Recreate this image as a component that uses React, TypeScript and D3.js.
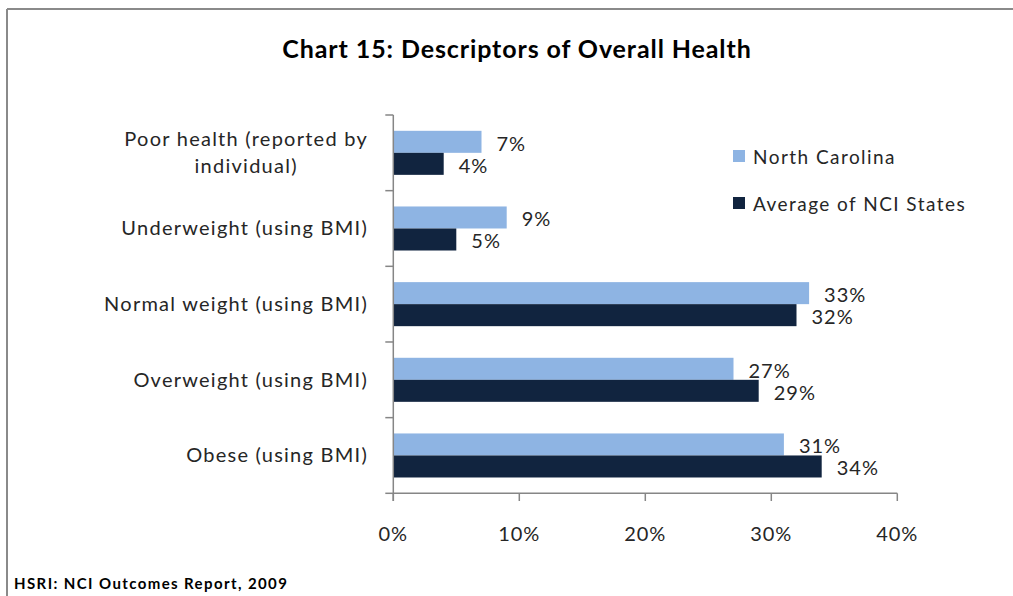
import React, { useEffect, useRef } from "react";
import * as d3 from "d3";

const categories = [
  "Poor health (reported by\nindividual)",
  "Underweight (using BMI)",
  "Normal weight (using BMI)",
  "Overweight (using BMI)",
  "Obese (using BMI)",
];
const seriesNames = ["North Carolina", "Average of NCI States"];
const northCarolina = [7, 9, 33, 27, 31];
const averageNCI = [4, 5, 32, 29, 34];
const xTicks = [0, 10, 20, 30, 40];
const title = "Chart 15: Descriptors of Overall Health";
const footer = "HSRI: NCI Outcomes Report, 2009";

const W = 1013;
const H = 596;
const FONT = "Lato, 'Open Sans', sans-serif";
const colors = ["#8EB4E3", "#11243F"];

export default function App() {
  const ref = useRef<SVGSVGElement>(null);

  useEffect(() => {
    const svg = d3.select(ref.current);
    svg.selectAll("*").remove();

    // frame
    svg.append("rect").attr("width", W).attr("height", H).attr("fill", "#fff");
    svg.append("line").attr("x1", 7).attr("x2", W).attr("y1", 9).attr("y2", 9)
      .attr("stroke", "#8a8a8a").attr("stroke-width", 2);
    svg.append("line").attr("x1", 7).attr("x2", 7).attr("y1", 9).attr("y2", H)
      .attr("stroke", "#8a8a8a").attr("stroke-width", 2);

    // title
    svg.append("text").attr("x", 517).attr("y", 48)
      .attr("text-anchor", "middle").attr("dominant-baseline", "central")
      .attr("font-family", FONT).attr("font-weight", "bold").attr("font-size", 25)
      .attr("letter-spacing", 0.9)
      .attr("fill", "#000").text(title);

    const x = d3.scaleLinear().domain([0, 40]).range([393.3, 897.3]);
    const yBand = d3.scaleBand<string>().domain(categories).range([115, 493.3]);
    const yGroup = d3.scaleBand<string>().domain(categories).range([115, 493.3])
      .paddingInner(0.418).paddingOuter(0.209);
    const ySeries = d3.scaleBand<string>().domain(seriesNames).range([0, yGroup.bandwidth()]);

    const rows = categories.map((c, i) => ({ c, vals: [northCarolina[i], averageNCI[i]] }));

    // bars
    rows.forEach((r) => {
      r.vals.forEach((v, si) => {
        const y0 = (yGroup(r.c) as number) + (ySeries(seriesNames[si]) as number);
        svg.append("rect")
          .attr("x", x(0)).attr("y", y0)
          .attr("width", x(v) - x(0)).attr("height", ySeries.bandwidth())
          .attr("fill", colors[si]);
        svg.append("text")
          .attr("x", x(v) + 15).attr("y", y0 + ySeries.bandwidth() / 2 + 1)
          .attr("dominant-baseline", "central")
          .attr("font-family", FONT).attr("font-size", 20).attr("letter-spacing", 1)
          .attr("fill", "#262626")
          .text(`${v}%`);
      });
    });

    const axisColor = "#868686";
    // y axis line
    svg.append("line").attr("x1", x(0)).attr("x2", x(0)).attr("y1", 115).attr("y2", 501)
      .attr("stroke", axisColor).attr("stroke-width", 1.5);
    // category ticks
    const boundaries = [115, ...categories.map((c) => (yBand(c) as number) + yBand.bandwidth())];
    boundaries.forEach((b) => {
      svg.append("line").attr("x1", x(0) - 8).attr("x2", x(0)).attr("y1", b).attr("y2", b)
        .attr("stroke", axisColor).attr("stroke-width", 1.5);
    });
    // x axis line
    svg.append("line").attr("x1", x(0)).attr("x2", x(40)).attr("y1", 493.3).attr("y2", 493.3)
      .attr("stroke", axisColor).attr("stroke-width", 1.5);
    xTicks.forEach((t) => {
      svg.append("line").attr("x1", x(t)).attr("x2", x(t)).attr("y1", 493.3).attr("y2", 501)
        .attr("stroke", axisColor).attr("stroke-width", 1.5);
      svg.append("text").attr("x", x(t)).attr("y", 533)
        .attr("text-anchor", "middle").attr("dominant-baseline", "central")
        .attr("font-family", FONT).attr("font-size", 20).attr("letter-spacing", 1)
        .attr("fill", "#262626")
        .text(`${t}%`);
    });

    // category labels
    categories.forEach((c) => {
      const lines = c.split("\n");
      const cy = (yBand(c) as number) + yBand.bandwidth() / 2;
      const g = svg.append("g");
      const lh = 27;
      const texts = lines.map((ln, li) =>
        g.append("text")
          .attr("y", cy - 1 + (li - (lines.length - 1) / 2) * lh)
          .attr("dominant-baseline", "central")
          .attr("font-family", FONT).attr("font-size", 20).attr("letter-spacing", 1.25)
          .attr("fill", "#262626")
          .text(ln)
      );
      const widths = texts.map((t) => (t.node() as SVGTextElement).getComputedTextLength());
      const maxW = Math.max(...widths);
      const right = 368;
      const center = right - maxW / 2;
      texts.forEach((t) => t.attr("x", center).attr("text-anchor", "middle"));
    });

    // legend
    seriesNames.forEach((s, i) => {
      const ly = 156 + i * 47;
      svg.append("rect").attr("x", 733).attr("y", ly - 6).attr("width", 12).attr("height", 12)
        .attr("fill", colors[i]);
      svg.append("text").attr("x", 753).attr("y", ly)
        .attr("dominant-baseline", "central")
        .attr("font-family", FONT).attr("font-size", 19).attr("letter-spacing", 1.45)
        .attr("fill", "#262626")
        .text(s);
    });

    // footer
    svg.append("text").attr("x", 14).attr("y", 583)
      .attr("dominant-baseline", "central")
      .attr("font-family", FONT).attr("font-weight", "bold").attr("font-size", 15)
      .attr("letter-spacing", 1.4)
      .attr("fill", "#000").text(footer);
  }, []);

  return (
    <div style={{ position: "absolute", left: 0, top: 0 }}>
      <svg ref={ref} width={W} height={H} style={{ display: "block" }} />
    </div>
  );
}
